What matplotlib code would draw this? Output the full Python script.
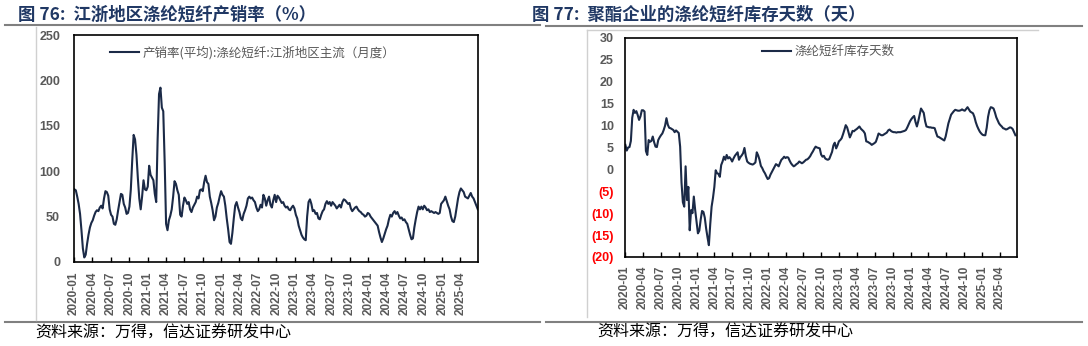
import matplotlib
matplotlib.use("Agg")
import matplotlib.pyplot as plt
import matplotlib.dates as mdates
from matplotlib.lines import Line2D
from matplotlib.ticker import FixedLocator, FuncFormatter
import pandas as pd

plt.rcParams['font.family'] = ['Noto Sans CJK SC', 'DejaVu Sans']

# 江浙地区涤纶短纤产销率，周度（%）
sales_ratio = [
    80, 79, 72, 64, 53, 35, 15, 5, 8, 20, 30, 38, 43, 46, 51, 55, 57, 56, 60, 62,
    59, 70, 78, 77, 73, 58, 52, 50, 42, 41, 47, 57, 66, 75, 74, 64, 60, 53, 54, 61,
    80, 112, 140, 135, 118, 92, 70, 58, 72, 90, 80, 79, 83, 106, 96, 93, 90, 75, 66, 135,
    185, 192, 170, 166, 110, 42, 35, 46, 51, 58, 72, 89, 86, 79, 74, 52, 50, 62, 71, 68,
    64, 66, 58, 55, 60, 63, 66, 72, 70, 79, 80, 78, 88, 95, 88, 86, 72, 65, 57, 46,
    50, 60, 65, 72, 78, 74, 72, 62, 48, 36, 22, 20, 32, 48, 62, 66, 60, 55, 48, 46,
    53, 57, 62, 70, 72, 70, 71, 68, 66, 60, 56, 58, 63, 60, 74, 70, 62, 68, 72, 63,
    60, 68, 74, 66, 73, 71, 68, 65, 66, 62, 60, 61, 58, 57, 60, 62, 59, 52, 48, 40,
    35, 30, 27, 25, 24, 50, 66, 69, 64, 56, 57, 53, 54, 48, 47, 52, 56, 58, 64, 67,
    64, 66, 62, 66, 64, 62, 59, 61, 63, 60, 66, 69, 68, 66, 64, 65, 59, 56, 58, 60,
    61, 58, 56, 55, 53, 52, 50, 51, 54, 53, 50, 48, 46, 44, 42, 40, 33, 27, 22, 26,
    31, 36, 40, 47, 52, 50, 54, 56, 53, 55, 51, 48, 49, 46, 47, 44, 42, 36, 30, 25,
    26, 38, 47, 55, 61, 58, 61, 58, 62, 60, 57, 58, 55, 56, 55, 54, 55, 54, 53, 54,
    64, 66, 68, 72, 67, 62, 58, 50, 45, 44, 50, 60, 70, 77, 81, 79, 77, 72, 71, 70,
    73, 76, 72, 70, 66, 62, 58,
]

# 聚酯企业涤纶短纤库存天数，周度（天）
stock_days = [
    5.6, 4.3, 5.0, 5.1, 6.5, 11.8, 13.6, 12.9, 13.3, 12.4, 11.3, 12.1, 13.5, 13.5, 13.2, 4.2,
    3.3, 6.7, 6.3, 6.5, 7.5, 6.2, 5.2, 5.1, 6.7, 7.3, 7.8, 8.2, 9.0, 10.0, 11.7, 10.2,
    9.5, 9.4, 9.2, 9.0, 8.5, 8.9, 8.6, 8.3, 5.2, -3.0, -7.5, -8.5, 0.7, -7.0, -4.0, -13.9,
    -9.3, -10.0, -6.2, -9.3, -12.0, -14.6, -14.0, -11.5, -9.5, -9.7, -11.0, -13.5, -15.5, -17.3,
    -12.5, -8.5, -6.5, -4.0, -0.2, -0.9, -1.0, -1.7, 1.0, 1.8, 2.9, 2.2, 3.3, 2.5,
    2.8, 2.4, 1.8, 2.5, 3.1, 3.5, 3.9, 2.2, 2.8, 3.2, 3.7, 4.9, 3.0, 1.8, 1.5, 1.3,
    1.2, 1.1, 1.3, 1.6, 3.9, 3.2, 2.2, 0.8, 0.3, -0.4, -0.9, -1.6, -2.2, -2.0, -1.2, -0.6,
    0.0, 0.6, 1.2, 1.0, 0.7, 1.5, 2.2, 2.5, 2.9, 2.6, 2.8, 2.7, 2.0, 1.4, 1.0, 0.7,
    0.9, 1.2, 1.4, 1.8, 1.6, 1.4, 1.6, 1.9, 2.2, 2.3, 2.6, 3.0, 3.6, 4.1, 4.7, 5.2,
    5.0, 4.9, 4.8, 3.4, 2.9, 3.1, 2.5, 2.3, 2.2, 2.4, 3.2, 4.0, 5.5, 6.1, 4.8, 5.5,
    6.4, 6.7, 7.1, 8.0, 9.0, 10.1, 9.6, 8.5, 7.3, 8.0, 8.8, 8.7, 9.0, 9.2, 9.5, 9.8,
    9.3, 9.0, 8.7, 8.2, 6.4, 6.3, 6.1, 5.9, 5.6, 5.8, 6.0, 6.3, 7.2, 8.2, 8.0, 7.8,
    7.8, 8.0, 8.2, 8.4, 8.9, 9.1, 8.8, 8.6, 8.5, 8.5, 8.4, 8.5, 8.5, 8.5, 8.6, 8.7,
    8.8, 9.0, 9.6, 10.3, 11.0, 11.5, 11.9, 12.2, 10.8, 9.8, 11.0, 12.5, 13.9, 13.4, 12.9, 11.0,
    9.8, 9.7, 9.6, 9.6, 9.5, 9.5, 9.4, 8.4, 7.5, 7.4, 7.2, 7.0, 6.8, 6.6, 7.5, 9.0,
    10.5, 11.5, 12.5, 12.9, 13.3, 13.6, 13.5, 13.4, 13.4, 13.5, 13.7, 13.5, 13.4, 13.8, 14.2, 13.7,
    13.2, 13.0, 12.8, 12.0, 10.8, 9.9, 9.2, 8.6, 8.2, 7.9, 7.8, 7.8, 9.5, 12.0, 13.5, 14.2,
    14.1, 13.9, 13.0, 11.9, 11.2, 10.5, 10.1, 9.8, 9.4, 9.3, 9.1, 9.2, 9.4, 9.6, 9.5, 9.2,
    8.5, 7.8,
]

left_dates = pd.date_range("2020-01-03", periods=len(sales_ratio), freq="7D")
right_dates = pd.date_range("2020-01-03", periods=len(stock_days), freq="7D")

left_title = "图 76:  江浙地区涤纶短纤产销率（%）"
right_title = "图 77:  聚酯企业的涤纶短纤库存天数（天）"
left_label = "产销率(平均):涤纶短纤:江浙地区主流（月度）"
right_label = "涤纶短纤库存天数"
source = "资料来源：万得，信达证券研发中心"

left_yticks = [0, 50, 100, 150, 200, 250]
right_yticks = [-20, -15, -10, -5, 0, 5, 10, 15, 20, 25, 30]
quarter_ticks = pd.date_range("2020-01-01", "2025-04-01", freq="QS")

W, H = 1088, 346
LINE = "#1b2a47"
GREY = "#595959"
NAVY = "#203864"

fig = plt.figure(figsize=(W / 100, H / 100), dpi=100)


def px_box(x0, y0, x1, y1):
    return [x0 / W, 1 - y1 / H, (x1 - x0) / W, (y1 - y0) / H]


def hline(x0, x1, y, color, lw):
    fig.add_artist(Line2D([x0 / W, x1 / W], [1 - y / H, 1 - y / H],
                          color=color, lw=lw, transform=fig.transFigure))


def vline(x, y0, y1, color, lw):
    fig.add_artist(Line2D([x / W, x / W], [1 - y0 / H, 1 - y1 / H],
                          color=color, lw=lw, transform=fig.transFigure))


def style_axes(ax, dates, ypad, xpad):
    for sp in ax.spines.values():
        sp.set_color("black")
        sp.set_linewidth(1.2)
    ax.set_xticks(quarter_ticks)
    ax.xaxis.set_major_formatter(mdates.DateFormatter("%Y-%m"))
    ax.set_xlim(pd.Timestamp("2020-01-01"), pd.Timestamp("2025-06-28"))
    ax.tick_params(axis="x", direction="in", length=3.5, width=1, pad=xpad,
                   labelrotation=90, labelsize=8.5, labelcolor=GREY)
    ax.tick_params(axis="y", length=0, pad=ypad, labelsize=9, labelcolor=GREY)
    for lab in ax.get_xticklabels() + ax.get_yticklabels():
        lab.set_fontfamily(["Liberation Sans", "DejaVu Sans"])
        lab.set_fontweight("bold")


# 左图：产销率
ax1 = fig.add_axes(px_box(74, 35, 478, 262))
ax1.plot(left_dates, sales_ratio, color=LINE, lw=1.5, label=left_label)
ax1.set_ylim(0, 250)
ax1.set_yticks(left_yticks)
style_axes(ax1, left_dates, ypad=10, xpad=7)
ax1.legend(loc="center left", bbox_to_anchor=(0.089, 0.921), frameon=False,
           borderpad=0, borderaxespad=0, handlelength=2.3, handletextpad=0.3,
           prop={"size": 9}, labelcolor=GREY)

# 右图：库存天数
ax2 = fig.add_axes(px_box(625, 38, 1017, 257))
ax2.plot(right_dates, stock_days, color=LINE, lw=1.5, label=right_label)
ax2.set_ylim(-20, 30)
ax2.yaxis.set_major_locator(FixedLocator(right_yticks))
ax2.yaxis.set_major_formatter(FuncFormatter(lambda v, p: f"({abs(v):.0f})" if v < 0 else f"{v:.0f}"))
style_axes(ax2, right_dates, ypad=8, xpad=6)
for v, lab in zip(right_yticks, ax2.get_yticklabels()):
    if v < 0:
        lab.set_color("#ff0000")
ax2.legend(loc="center left", bbox_to_anchor=(0.349, 0.937), frameon=False,
           borderpad=0, borderaxespad=0, handlelength=2.3, handletextpad=0.3,
           prop={"size": 9}, labelcolor=GREY)

# 标题、分隔线、图框与来源
fig.text(18 / W, 1 - 15 / H, left_title, fontsize=12.5, fontweight="bold",
         color=NAVY, va="center", ha="left")
fig.text(532 / W, 1 - 15 / H, right_title, fontsize=12.5, fontweight="bold",
         color=NAVY, va="center", ha="left")
hline(5, 540, 24.5, "#808080", 1.5)
hline(546, 1082, 25.5, "#808080", 1.5)
hline(5, 540, 322, "#808080", 1.5)
hline(546, 1082, 321.5, "#808080", 1.5)
vline(36, 27, 320, "#d0d0d0", 1)
vline(587, 30, 317, "#d0d0d0", 1)
hline(587, 1038, 30, "#d0d0d0", 1)
fig.text(35 / W, 1 - 333 / H, source, fontsize=11.5, color="black", va="center", ha="left")
fig.text(597 / W, 1 - 332 / H, source, fontsize=11.5, color="black", va="center", ha="left")

fig.savefig("out.png", dpi=100)
